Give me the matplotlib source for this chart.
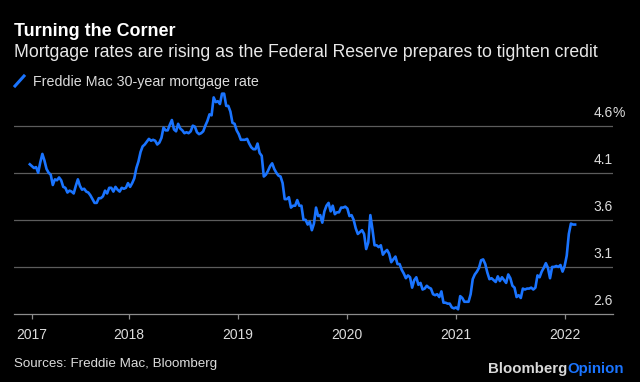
import numpy as np
import pandas as pd
import matplotlib
matplotlib.use("Agg")
import matplotlib.pyplot as plt
from matplotlib.lines import Line2D
import matplotlib.transforms as mtransforms

plt.rcParams['font.family'] = ['Liberation Sans', 'DejaVu Sans']

# Freddie Mac 30-year fixed, weekly, 2017-02-02 .. 2022-02-03
rates_2017 = [4.19, 4.17, 4.15, 4.16,
              4.10, 4.21, 4.30, 4.23, 4.14,
              4.10, 4.08, 3.97, 4.03,
              4.02, 4.05, 4.02, 3.95,
              3.94, 3.89, 3.91, 3.90, 3.88,
              3.96, 4.03, 3.96, 3.92,
              3.93, 3.90, 3.89, 3.86, 3.82,
              3.78, 3.78, 3.83, 3.83,
              3.85, 3.91, 3.88, 3.94,
              3.94, 3.90, 3.95, 3.92, 3.90,
              3.94, 3.93, 3.94, 3.99]
rates_2018 = [3.95, 3.99, 4.04, 4.15,
              4.22, 4.32, 4.38, 4.40,
              4.43, 4.46, 4.44, 4.45, 4.44,
              4.40, 4.42, 4.47, 4.58,
              4.55, 4.55, 4.61, 4.66, 4.56,
              4.54, 4.62, 4.57, 4.55,
              4.52, 4.53, 4.52, 4.54,
              4.60, 4.59, 4.53, 4.51, 4.52,
              4.54, 4.60, 4.65, 4.72,
              4.71, 4.90, 4.85, 4.86,
              4.83, 4.94, 4.94, 4.81, 4.81,
              4.75, 4.63, 4.62, 4.55]
rates_2019 = [4.51, 4.45, 4.45, 4.45, 4.46,
              4.41, 4.37, 4.35, 4.35,
              4.41, 4.31, 4.28, 4.06,
              4.08, 4.12, 4.17, 4.20,
              4.14, 4.10, 4.07, 4.06, 3.99,
              3.82, 3.82, 3.84, 3.73,
              3.75, 3.75, 3.81, 3.75,
              3.75, 3.60, 3.60, 3.55, 3.58,
              3.49, 3.56, 3.73, 3.64,
              3.65, 3.57, 3.69, 3.75, 3.78,
              3.69, 3.75, 3.66, 3.68,
              3.68, 3.73, 3.73, 3.74]
rates_2020 = [3.72, 3.64, 3.65, 3.60, 3.51,
              3.45, 3.47, 3.49, 3.45,
              3.29, 3.36, 3.65, 3.50,
              3.33, 3.33, 3.31, 3.33, 3.23,
              3.26, 3.28, 3.24, 3.15,
              3.18, 3.21, 3.13, 3.13,
              3.07, 3.03, 2.98, 3.01, 2.99,
              2.88, 2.96, 2.99, 2.91,
              2.93, 2.86, 2.87, 2.90,
              2.88, 2.87, 2.81, 2.80, 2.81,
              2.78, 2.84, 2.72, 2.72,
              2.71, 2.71, 2.67, 2.66, 2.67]
rates_2021 = [2.65, 2.79, 2.77, 2.73,
              2.73, 2.73, 2.81, 2.97,
              3.02, 3.05, 3.09, 3.17,
              3.18, 3.13, 3.04, 2.97, 2.98,
              2.96, 2.94, 3.00, 2.95,
              2.99, 2.96, 2.93, 3.02,
              2.98, 2.90, 2.88, 2.78, 2.80,
              2.77, 2.87, 2.86, 2.87,
              2.87, 2.88, 2.86, 2.88, 3.01,
              2.99, 3.05, 3.09, 3.14,
              3.09, 2.98, 3.10, 3.10,
              3.11, 3.10, 3.12, 3.05, 3.11]
rates_2022 = [3.22, 3.45, 3.56, 3.55, 3.55]

rates = rates_2017 + rates_2018 + rates_2019 + rates_2020 + rates_2021 + rates_2022
dates = pd.date_range('2017-02-02', periods=len(rates), freq='7D')

y_ticks = [2.6, 3.1, 3.6, 4.1, 4.6]
y_labels = ['2.6', '3.1', '3.6', '4.1', '4.6']
x_tick_dates = pd.to_datetime(['2017-02-08', '2018-01-01', '2019-01-01',
                               '2020-01-01', '2021-01-01', '2022-01-01'])
x_labels = ['2017', '2018', '2019', '2020', '2021', '2022']

BG = '#000000'
BLUE = '#1a74ff'
GRID = '#5c5c5c'
TXT = '#dcdcdc'

W, H = 640, 382
fig = plt.figure(figsize=(6.4, 3.82), dpi=100, facecolor=BG)
ax = fig.add_axes([14 / W, 1 - 314 / H, (612.7 - 14) / W, (314 - 88) / H])
ax.set_facecolor(BG)

ax.plot(dates, rates, color=BLUE, lw=1.9, solid_joinstyle='round', zorder=3)

ax.set_xlim(pd.Timestamp('2016-12-11'), pd.Timestamp('2022-06-09'))
ax.set_ylim(2.6, 5.0)

for v in y_ticks[1:]:
    ax.axhline(v, color=GRID, lw=0.9, zorder=1)

for s in ['top', 'right', 'left']:
    ax.spines[s].set_visible(False)
ax.spines['bottom'].set_color('#8c8c8c')
ax.spines['bottom'].set_linewidth(0.9)

ax.set_yticks([])
ax.set_xticks(x_tick_dates)
ax.set_xticklabels(x_labels)
ax.tick_params(axis='x', colors='#8c8c8c', length=3.6, width=0.9, pad=6.5,
               labelcolor=TXT, labelsize=10)

# right-side value labels sitting above the gridlines
trans = mtransforms.blended_transform_factory(ax.transAxes, ax.transData)
for v, lab in zip(y_ticks, y_labels):
    ax.annotate(lab, xy=(1.0, v), xycoords=trans, xytext=(0, 9.4),
                textcoords='offset points', ha='right', va='center',
                color=TXT, fontsize=10, annotation_clip=False)
ax.annotate('%', xy=(1.0, 4.6), xycoords=trans, xytext=(0, 9.4),
            textcoords='offset points', ha='left', va='center',
            color=TXT, fontsize=10, annotation_clip=False)

# titles
fig.text(14 / W, 1 - 36 / H, 'Turning the Corner', color='#ffffff',
         fontsize=12.9, fontweight='bold', va='baseline', ha='left')
fig.text(14 / W, 1 - 57.3 / H,
         'Mortgage rates are rising as the Federal Reserve prepares to tighten credit',
         color='#e8e8e8', fontsize=12.7, va='baseline', ha='left')

# legend
fig.add_artist(Line2D([15 / W, 24 / W], [1 - 86 / H, 1 - 76 / H],
                      color=BLUE, lw=2.2, transform=fig.transFigure))
fig.text(33 / W, 1 - 86 / H, 'Freddie Mac 30-year mortgage rate',
         color=TXT, fontsize=10.3, va='baseline', ha='left')

# footer
fig.text(14 / W, 1 - 367.3 / H, 'Sources: Freddie Mac, Bloomberg',
         color=TXT, fontsize=9.6, va='baseline', ha='left')
brand = fig.text(488 / W, 1 - 373.3 / H, 'Bloomberg', color='#d9d9d9',
                 fontsize=10.8, fontweight='bold', va='baseline', ha='left')
ax.annotate('Opinion', xy=(1, 0), xycoords=brand, va='bottom', ha='left',
            color=BLUE, fontsize=10.8, fontweight='bold',
            annotation_clip=False)

fig.savefig('out.png', dpi=100, facecolor=BG)
